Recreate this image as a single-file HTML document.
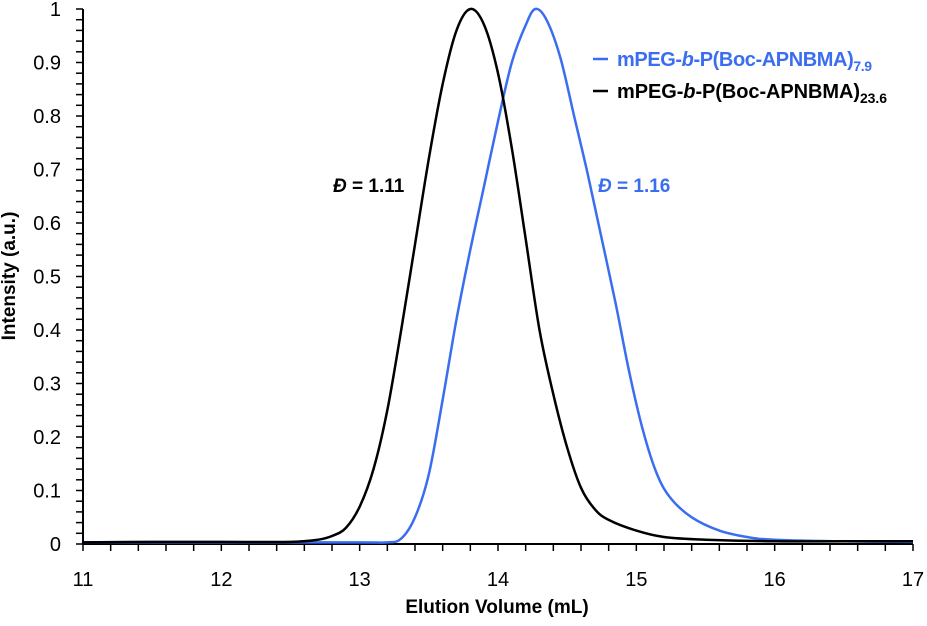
<!DOCTYPE html>
<html><head><meta charset="utf-8"><style>
html,body{margin:0;padding:0;background:#fff;}
svg{display:block;font-family:"Liberation Sans",sans-serif;}
</style></head><body>
<svg id="chart" width="927" height="626">
<g id="axes"></g>
<g id="series"></g>
<text x="15" y="276" transform="rotate(-90 15 276)" text-anchor="middle" font-size="19" font-weight="bold">Intensity (a.u.)</text>
<text x="497" y="613" text-anchor="middle" font-size="19" font-weight="bold">Elution Volume (mL)</text>
<text x="333" y="192" font-size="19" font-weight="bold"><tspan font-style="italic">Đ</tspan> = 1.11</text>
<text x="598" y="192" font-size="19" font-weight="bold" fill="#3a6df0"><tspan font-style="italic">Đ</tspan> = 1.16</text>
<g>
<line x1="593" y1="59" x2="608" y2="59" stroke="#3a6df0" stroke-width="2.5"/>
<text x="617" y="66" font-size="20" font-weight="bold" fill="#3a6df0" textLength="255">mPEG-<tspan font-style="italic">b</tspan>-P(Boc-APNBMA)<tspan font-size="14" dy="5">7.9</tspan></text>
<line x1="593" y1="91" x2="608" y2="91" stroke="#000" stroke-width="2.5"/>
<text x="617" y="98" font-size="20" font-weight="bold" fill="#000" textLength="270">mPEG-<tspan font-style="italic">b</tspan>-P(Boc-APNBMA)<tspan font-size="14" dy="5">23.6</tspan></text>
</g>
</svg>
<script>
const xTicks=[11,12,13,14,15,16,17];
const yTicks=[0,0.1,0.2,0.3,0.4,0.5,0.6,0.7,0.8,0.9,1];
const yTickLabels=["0","0.1","0.2","0.3","0.4","0.5","0.6","0.7","0.8","0.9","1"];
const blackX=[11,11.5,12,12.5,12.7,12.8,12.9,13.0,13.1,13.2,13.3,13.4,13.5,13.6,13.7,13.8,13.9,14.0,14.1,14.2,14.3,14.4,14.5,14.6,14.7,14.8,15.0,15.2,15.5,16,16.5,17];
const blackY=[0.003,0.004,0.004,0.004,0.008,0.015,0.03,0.07,0.14,0.25,0.4,0.56,0.72,0.86,0.96,1.0,0.97,0.88,0.74,0.57,0.4,0.28,0.18,0.105,0.065,0.045,0.025,0.013,0.008,0.005,0.005,0.005];
const blueX=[11,12,13,13.2,13.3,13.4,13.5,13.6,13.7,13.8,13.9,14.0,14.1,14.2,14.27,14.35,14.45,14.55,14.65,14.75,14.85,14.95,15.05,15.15,15.25,15.4,15.6,15.8,16,16.5,17];
const blueY=[0.003,0.003,0.003,0.003,0.01,0.05,0.13,0.27,0.42,0.55,0.67,0.79,0.9,0.97,1.0,0.98,0.91,0.8,0.69,0.57,0.45,0.32,0.21,0.13,0.085,0.05,0.025,0.013,0.008,0.005,0.004];
const L=83,R=913,T=9,B=544;
const sx=v=>L+(v-11)/6*(R-L);
const sy=v=>B-v*(B-T);
const NS="http://www.w3.org/2000/svg";
const axes=document.getElementById('axes');
function mk(tag,attrs,parent){const e=document.createElementNS(NS,tag);for(const k in attrs)e.setAttribute(k,attrs[k]);parent.appendChild(e);return e;}
let yl=mk('line',{x1:L,y1:T,x2:L,y2:B,stroke:'#000','stroke-width':2},axes);


let xl=mk('line',{x1:L,y1:B,x2:R,y2:B,stroke:'#000','stroke-width':2},axes);


for(let i=0;i<=50;i++){const v=i*0.02;const y=sy(v);
 mk('line',{x1:L-7,y1:y,x2:L,y2:y,stroke:'#000','stroke-width':1.5},axes);}
for(let i=0;i<=30;i++){const v=11+i*0.2;const x=sx(v);
 mk('line',{x1:x,y1:B,x2:x,y2:B+7,stroke:'#000','stroke-width':1.5},axes);}
yTicks.forEach((v,i)=>{const t=mk('text',{x:61,y:sy(v)+7,'text-anchor':'end','font-size':20},axes);t.textContent=yTickLabels[i];
 
 });
xTicks.forEach(v=>{const t=mk('text',{x:sx(v),y:586,'text-anchor':'middle','font-size':20},axes);t.textContent=String(v);
 
 });
const series=document.getElementById('series');
function draw(xs,ys,color,name){
 const P=xs.map((x,i)=>[sx(x),sy(ys[i])]);
 let d='M'+P[0][0].toFixed(1)+','+P[0][1].toFixed(1);
 for(let i=0;i<P.length-1;i++){const p0=P[Math.max(0,i-1)],p1=P[i],p2=P[i+1],p3=P[Math.min(P.length-1,i+2)];
  const c1=[p1[0]+(p2[0]-p0[0])/6,p1[1]+(p2[1]-p0[1])/6],c2=[p2[0]-(p3[0]-p1[0])/6,p2[1]-(p3[1]-p1[1])/6];
  d+=' C'+c1.map(v=>v.toFixed(1)).join(',')+' '+c2.map(v=>v.toFixed(1)).join(',')+' '+p2.map(v=>v.toFixed(1)).join(',');}
 const p=mk('path',{d:d,fill:'none',stroke:color,'stroke-width':2.5,'stroke-linejoin':'round'},series);
 
 }
draw(blueX,blueY,'#3a6df0','blue-trace');
draw(blackX,blackY,'#000','black-trace');
</script>
</body></html>
